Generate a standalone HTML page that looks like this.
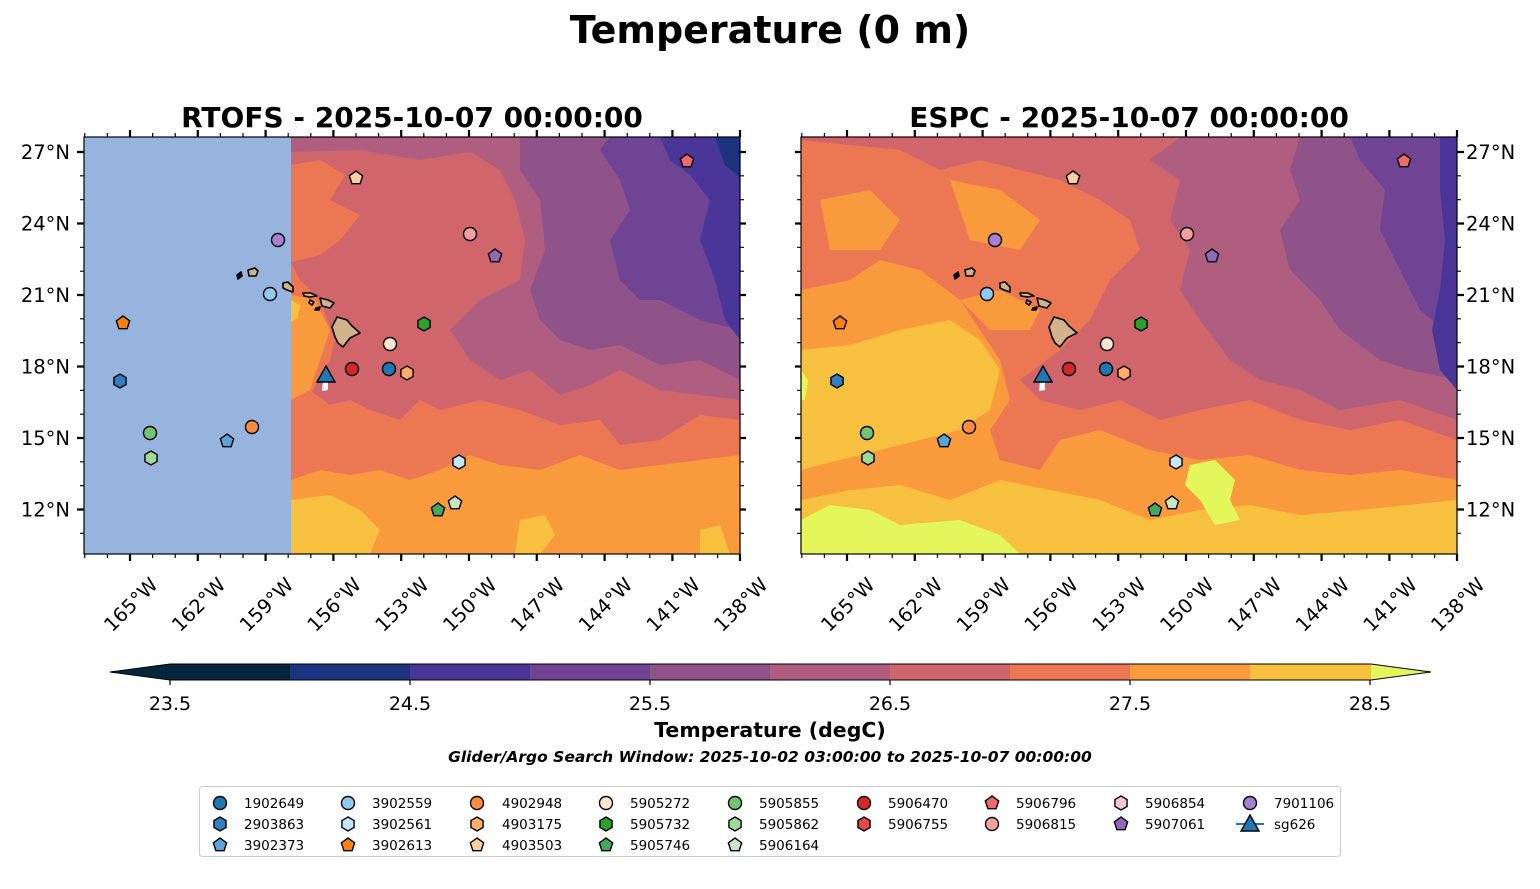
<!DOCTYPE html>
<html><head><meta charset="utf-8"><style>
html,body{margin:0;padding:0;background:#fff;}
svg{display:block;font-family:"DejaVu Sans","Liberation Sans",sans-serif;}
</style></head><body>
<svg width="1540" height="889" viewBox="0 0 1540 889" xmlns="http://www.w3.org/2000/svg">
<defs>
<clipPath id="cL"><rect x="84" y="137" width="656" height="417"/></clipPath>
<clipPath id="cR"><rect x="801" y="137" width="656" height="417"/></clipPath>
<g id="ci"><circle r="6.5" stroke="#000" stroke-width="1.4"/></g>
<g id="hx"><polygon points="0,-7 6.06,-3.5 6.06,3.5 0,7 -6.06,3.5 -6.06,-3.5" stroke="#000" stroke-width="1.4"/></g>
<g id="pt"><polygon points="0,-7 6.66,-2.16 4.11,5.66 -4.11,5.66 -6.66,-2.16" stroke="#000" stroke-width="1.4"/></g>
<g id="tr"><polygon points="0,-9 9,7 -9,7" stroke="#000" stroke-width="1.4"/></g>
<g id="isl" fill="#d2b48c" stroke="#000" stroke-width="1.6" stroke-linejoin="round">
<polygon points="337,317 347,320 352,326 360,333 350,338 343,347 338,343 335,337 332,327"/>
<polygon points="320,298 328,300 334,303 330,308 322,306"/>
<polygon points="303,293 311,293 317,296 310,297 304,296"/>
<polygon points="310,300 314,302 312,305 309,303" />
<polygon points="283,283 288,282 293,287 293,292 287,290 283,288"/>
<polygon points="248,270 255,268 258,271 256,276 249,276"/>
<polygon points="237,275 241,272 242,276 238,279" fill="#000"/>
<polygon points="316,308 320,307 319,310 315,310" fill="#000"/>
</g>
<g id="mk">
<use href="#ci" x="389" y="369" fill="#1f77b4"/>
<use href="#hx" x="120" y="381" fill="#2f7fc1"/>
<use href="#pt" x="227" y="441" fill="#5ba3d9"/>
<use href="#ci" x="270" y="294" fill="#8fc9ef"/>
<use href="#hx" x="459" y="462" fill="#c6e6f9"/>
<use href="#pt" x="123" y="323" fill="#ff7f0e"/>
<use href="#ci" x="252" y="427" fill="#fd8d3c"/>
<use href="#hx" x="407" y="373" fill="#fdae6b"/>
<use href="#pt" x="356" y="178" fill="#fdd0a2"/>
<use href="#ci" x="390" y="344" fill="#fee6ce"/>
<use href="#hx" x="424" y="324" fill="#2ca02c"/>
<use href="#pt" x="438" y="510" fill="#41ab5d"/>
<use href="#ci" x="150" y="433" fill="#74c476"/>
<use href="#hx" x="151" y="458" fill="#a1d99b"/>
<use href="#pt" x="455" y="503" fill="#c7e9c0"/>
<use href="#ci" x="352" y="369" fill="#d62728"/>
<use href="#pt" x="687" y="161" fill="#ef6a6a"/>
<use href="#ci" x="470" y="234" fill="#f4a0a0"/>
<use href="#pt" x="495" y="256" fill="#9467bd"/>
<use href="#ci" x="278" y="240" fill="#a87fd1"/>
<path d="M323,381 L328,381 L328,390 L322,391 Z" fill="#fff"/>
<use href="#tr" x="326" y="375" fill="#1f77b4"/>
</g>
</defs>

<text x="770" y="43" text-anchor="middle" font-size="38" font-weight="bold">Temperature (0 m)</text>
<text x="412" y="127" text-anchor="middle" font-size="28" font-weight="bold">RTOFS - 2025-10-07 00:00:00</text>
<text x="1129" y="127" text-anchor="middle" font-size="28" font-weight="bold">ESPC - 2025-10-07 00:00:00</text>

<!-- LEFT MAP -->
<g clip-path="url(#cL)">
<rect x="84" y="137" width="207" height="417" fill="#97b4de"/>
<rect x="291" y="137" width="449" height="417" fill="#f99a3d"/>
<polygon fill="#f8c03f" points="291,500 330,495 360,510 380,530 370,554 291,554"/>
<polygon fill="#f8c03f" points="520,520 545,515 555,535 540,554 515,554"/>
<polygon fill="#f8c03f" points="700,530 720,525 730,554 700,554"/>
<polygon fill="#ec7853" points="291,137 740,137 740,455 700,460 660,465 620,470 580,455 540,470 500,465 470,455 440,470 410,480 380,470 350,475 320,470 291,480"/>
<polygon fill="#f99a3d" points="291,295 315,300 330,330 320,360 310,390 291,400"/>
<polygon fill="#f8c03f" points="291,300 300,305 298,318 291,322"/>
<polygon fill="#d0666c" points="291,137 740,137 740,420 700,415 660,440 620,445 600,420 560,425 520,410 480,400 440,410 420,400 400,420 370,410 350,400 330,405 312,392 330,360 335,340 320,300 300,280 291,262"/>
<polygon fill="#ec7853" points="291,165 320,160 345,175 330,200 360,215 340,240 320,255 291,262"/>
<polygon fill="#b05e7f" points="291,137 740,137 740,400 700,395 660,390 620,370 590,385 560,395 530,370 500,380 470,360 450,330 480,300 520,280 525,240 515,200 500,170 470,152 420,160 360,150 291,152"/>
<polygon fill="#8f5289" points="520,137 740,137 740,380 700,360 660,365 620,345 590,350 560,340 540,320 530,290 545,250 540,200 520,170"/>
<polygon fill="#6f4494" points="610,137 740,137 740,330 700,320 660,300 640,300 620,280 610,240 630,210 620,180 600,150"/>
<polygon fill="#4a3699" points="660,137 740,137 740,340 725,320 715,280 700,240 710,200 690,175 670,160"/>
<polygon fill="#1e337f" points="715,137 740,137 740,178 725,165"/>
<use href="#isl"/>
<use href="#mk"/>
</g>
<rect x="84" y="137" width="656" height="417" fill="none" stroke="#000" stroke-width="1.2"/>

<!-- RIGHT MAP -->
<g clip-path="url(#cR)">
<rect x="801" y="137" width="656" height="417" fill="#f99a3d"/>
<polygon fill="#f8c03f" points="801,350 850,345 900,330 950,320 980,340 1000,370 990,410 960,430 920,440 880,450 840,460 801,470"/>
<polygon fill="#f8c03f" points="801,500 850,490 900,485 950,500 1000,480 1050,490 1100,500 1150,520 1200,510 1250,505 1300,515 1360,510 1457,500 1457,554 801,554"/>
<polygon fill="#e4f75a" points="801,520 830,505 870,510 900,525 960,520 1000,535 1020,554 801,554"/>
<polygon fill="#e4f75a" points="1190,465 1215,460 1235,480 1230,500 1240,520 1215,525 1200,500 1185,485"/>
<polygon fill="#e4f75a" points="801,370 808,380 805,400 801,400"/>
<polygon fill="#ec7853" points="801,137 1457,137 1457,480 1400,470 1350,475 1300,470 1250,455 1200,460 1150,450 1100,430 1060,440 1040,470 1000,460 990,430 1010,400 1000,360 980,330 960,300 920,270 880,260 850,280 801,290"/>
<polygon fill="#f99a3d" points="820,200 870,190 900,220 880,250 830,250"/>
<polygon fill="#f99a3d" points="950,180 1000,190 1040,220 1020,250 970,240"/>
<polygon fill="#f99a3d" points="960,300 1000,290 1040,310 1030,330 990,330"/>
<polygon fill="#d0666c" points="801,137 1457,137 1457,440 1400,420 1350,430 1300,420 1250,400 1200,410 1160,420 1120,400 1080,410 1040,400 1020,380 1060,350 1090,320 1110,280 1140,250 1130,220 1100,200 1060,180 1020,170 980,160 940,170 900,150 850,145 801,140"/>
<polygon fill="#b05e7f" points="1180,137 1457,137 1457,420 1400,400 1340,410 1300,390 1260,380 1230,360 1200,320 1180,290 1190,250 1170,220 1180,180 1150,160"/>
<polygon fill="#8f5289" points="1300,137 1457,137 1457,380 1410,370 1380,360 1340,330 1320,300 1290,270 1280,230 1300,200 1290,170"/>
<polygon fill="#6f4494" points="1350,137 1457,137 1457,340 1420,310 1400,270 1380,230 1385,190 1360,160"/>
<polygon fill="#4a3699" points="1440,137 1457,137 1457,390 1440,370 1432,330 1440,290 1445,240 1440,190"/>
<g transform="translate(717,0)"><use href="#isl"/><use href="#mk"/></g>
</g>
<rect x="801" y="137" width="656" height="417" fill="none" stroke="#000" stroke-width="1.2"/>

<!-- ticks -->
<g stroke="#000">
<g stroke-width="2.2">
<path d="M130,554v7M197.8,554v7M265.6,554v7M333.4,554v7M401.2,554v7M469,554v7M536.8,554v7M604.6,554v7M672.4,554v7M740,554v7"/>
<path d="M130,137v-7M197.8,137v-7M265.6,137v-7M333.4,137v-7M401.2,137v-7M469,137v-7M536.8,137v-7M604.6,137v-7M672.4,137v-7M740,137v-7"/>
<path d="M84,152h-7M84,223.5h-7M84,295h-7M84,366.5h-7M84,438h-7M84,509.5h-7"/>
<path d="M740,152h6M740,223.5h6M740,295h6M740,366.5h6M740,438h6M740,509.5h6"/>
<g transform="translate(717,0)">
<path d="M130,554v7M197.8,554v7M265.6,554v7M333.4,554v7M401.2,554v7M469,554v7M536.8,554v7M604.6,554v7M672.4,554v7M740,554v7"/>
<path d="M130,137v-7M197.8,137v-7M265.6,137v-7M333.4,137v-7M401.2,137v-7M469,137v-7M536.8,137v-7M604.6,137v-7M672.4,137v-7M740,137v-7"/>
<path d="M84,152h-6M84,223.5h-6M84,295h-6M84,366.5h-6M84,438h-6M84,509.5h-6"/>
<path d="M740,152h7M740,223.5h7M740,295h7M740,366.5h7M740,438h7M740,509.5h7"/>
</g>
</g>
<g stroke-width="1.2" id="minor">
<path d="M84.8,554v4M107.4,554v4M152.6,554v4M175.2,554v4M220.4,554v4M243,554v4M288.2,554v4M310.8,554v4M356,554v4M378.6,554v4M423.8,554v4M446.4,554v4M491.6,554v4M514.2,554v4M559.4,554v4M582,554v4M627.2,554v4M649.8,554v4M695,554v4M717.6,554v4"/>
<path d="M84.8,137v-4M107.4,137v-4M152.6,137v-4M175.2,137v-4M220.4,137v-4M243,137v-4M288.2,137v-4M310.8,137v-4M356,137v-4M378.6,137v-4M423.8,137v-4M446.4,137v-4M491.6,137v-4M514.2,137v-4M559.4,137v-4M582,137v-4M627.2,137v-4M649.8,137v-4M695,137v-4M717.6,137v-4"/>
<path d="M84,175.8h-4M84,199.7h-4M84,247.3h-4M84,271.2h-4M84,318.8h-4M84,342.7h-4M84,390.3h-4M84,414.2h-4M84,461.8h-4M84,485.7h-4M84,533.3h-4"/>
<path d="M740,175.8h4M740,199.7h4M740,247.3h4M740,271.2h4M740,318.8h4M740,342.7h4M740,390.3h4M740,414.2h4M740,461.8h4M740,485.7h4M740,533.3h4"/>
</g>
<use href="#minor" transform="translate(717,0)"/>
</g>

<g font-size="19.5" fill="#000">
<g text-anchor="end">
<text x="70" y="159">27°N</text><text x="70" y="230.5">24°N</text><text x="70" y="302">21°N</text><text x="70" y="373.5">18°N</text><text x="70" y="445">15°N</text><text x="70" y="516.5">12°N</text>
</g>
<g text-anchor="start">
<text x="1466" y="159">27°N</text><text x="1466" y="230.5">24°N</text><text x="1466" y="302">21°N</text><text x="1466" y="373.5">18°N</text><text x="1466" y="445">15°N</text><text x="1466" y="516.5">12°N</text>
</g>
<g id="lonl" text-anchor="end">
<text transform="translate(159,586) rotate(-45)">165°W</text>
<text transform="translate(226.8,586) rotate(-45)">162°W</text>
<text transform="translate(294.6,586) rotate(-45)">159°W</text>
<text transform="translate(362.4,586) rotate(-45)">156°W</text>
<text transform="translate(430.2,586) rotate(-45)">153°W</text>
<text transform="translate(498,586) rotate(-45)">150°W</text>
<text transform="translate(565.8,586) rotate(-45)">147°W</text>
<text transform="translate(633.6,586) rotate(-45)">144°W</text>
<text transform="translate(701.4,586) rotate(-45)">141°W</text>
<text transform="translate(769,586) rotate(-45)">138°W</text>
</g>
<use href="#lonl" transform="translate(717,0)"/>
</g>

<!-- colorbar -->
<polygon points="110,672 170,664 170,680" fill="#05253a"/>
<rect x="170" y="664" width="120" height="16" fill="#05253a"/>
<rect x="290" y="664" width="120" height="16" fill="#1e337f"/>
<rect x="410" y="664" width="120" height="16" fill="#4a3699"/>
<rect x="530" y="664" width="120" height="16" fill="#6f4494"/>
<rect x="650" y="664" width="120" height="16" fill="#8f5289"/>
<rect x="770" y="664" width="120" height="16" fill="#b05e7f"/>
<rect x="890" y="664" width="120" height="16" fill="#d0666c"/>
<rect x="1010" y="664" width="120" height="16" fill="#ec7853"/>
<rect x="1130" y="664" width="120" height="16" fill="#f99a3d"/>
<rect x="1250" y="664" width="121" height="16" fill="#f8c03f"/>
<polygon points="1371,664 1431,672 1371,680" fill="#e4f75a"/>
<polygon points="110,672 170,664 1371,664 1431,672 1371,680 170,680" fill="none" stroke="#000" stroke-width="1"/>
<path d="M170,680v5M410,680v5M650,680v5M890,680v5M1130,680v5M1370,680v5" stroke="#000" stroke-width="1.2"/>
<g font-size="19" text-anchor="middle">
<text x="170" y="710">23.5</text><text x="410" y="710">24.5</text><text x="650" y="710">25.5</text><text x="890" y="710">26.5</text><text x="1130" y="710">27.5</text><text x="1370" y="710">28.5</text>
</g>
<text x="770" y="737" text-anchor="middle" font-size="20.5" font-weight="bold">Temperature (degC)</text>
<text x="770" y="762" text-anchor="middle" font-size="15.5" font-weight="bold" font-style="italic">Glider/Argo Search Window: 2025-10-02 03:00:00 to 2025-10-07 00:00:00</text>

<!-- legend -->
<rect x="199.5" y="786.5" width="1141" height="70" rx="3" fill="#fff" stroke="#ccc" stroke-width="1"/>
<g font-size="13.5">
<use href="#ci" x="220" y="803" fill="#1f77b4"/>
<use href="#hx" x="220" y="824" fill="#2f7fc1"/>
<use href="#pt" x="220" y="845" fill="#5ba3d9"/>
<text x="244" y="808">1902649</text><text x="244" y="829">2903863</text><text x="244" y="850">3902373</text>
<use href="#ci" x="348" y="803" fill="#8fc9ef"/>
<use href="#hx" x="348" y="824" fill="#c6e6f9"/>
<use href="#pt" x="348" y="845" fill="#ff7f0e"/>
<text x="372" y="808">3902559</text><text x="372" y="829">3902561</text><text x="372" y="850">3902613</text>
<use href="#ci" x="477" y="803" fill="#fd8d3c"/>
<use href="#hx" x="477" y="824" fill="#fdae6b"/>
<use href="#pt" x="477" y="845" fill="#fdd0a2"/>
<text x="502" y="808">4902948</text><text x="502" y="829">4903175</text><text x="502" y="850">4903503</text>
<use href="#ci" x="606" y="803" fill="#fee6ce"/>
<use href="#hx" x="606" y="824" fill="#2ca02c"/>
<use href="#pt" x="606" y="845" fill="#41ab5d"/>
<text x="630" y="808">5905272</text><text x="630" y="829">5905732</text><text x="630" y="850">5905746</text>
<use href="#ci" x="735" y="803" fill="#74c476"/>
<use href="#hx" x="735" y="824" fill="#a1d99b"/>
<use href="#pt" x="735" y="845" fill="#c7e9c0"/>
<text x="759" y="808">5905855</text><text x="759" y="829">5905862</text><text x="759" y="850">5906164</text>
<use href="#ci" x="864" y="803" fill="#d62728"/>
<use href="#hx" x="864" y="824" fill="#e34a4a"/>
<text x="888" y="808">5906470</text><text x="888" y="829">5906755</text>
<use href="#pt" x="992" y="803" fill="#ef6a6a"/>
<use href="#ci" x="992" y="824" fill="#f4a0a0"/>
<text x="1016" y="808">5906796</text><text x="1016" y="829">5906815</text>
<use href="#hx" x="1121" y="803" fill="#f8c8cc"/>
<use href="#pt" x="1121" y="824" fill="#9467bd"/>
<text x="1145" y="808">5906854</text><text x="1145" y="829">5907061</text>
<use href="#ci" x="1250" y="803" fill="#a87fd1"/>
<path d="M1236,824h28" stroke="#1f77b4" stroke-width="2"/>
<use href="#tr" x="1250" y="824" fill="#1f77b4"/>
<text x="1274" y="808">7901106</text><text x="1274" y="829">sg626</text>
</g>
</svg>
</body></html>
